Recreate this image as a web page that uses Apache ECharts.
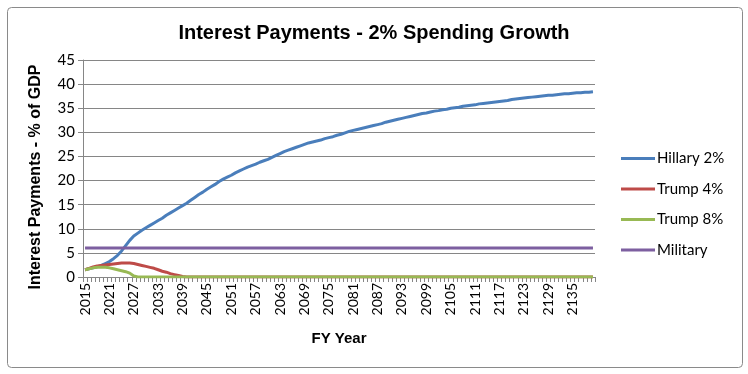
<!DOCTYPE html>
<html>
<head>
<meta charset="utf-8">
<script src="https://cdn.jsdelivr.net/npm/echarts@6/dist/echarts.min.js"></script>
<style>
html,body{margin:0;padding:0;background:#fff;}
#chart{width:748px;height:374px;}
</style>
</head>
<body>
<div id="chart"></div>
<script>
const years = [];
for (let y = 2015; y <= 2140; y++) years.push(String(y));

const hillary = [
1.5,1.7,1.9,2.1,2.4,2.8,3.2,3.8,4.5,5.4,
6.5,7.6,8.5,9.1,9.7,10.2,10.7,11.2,11.7,12.2,
12.8,13.3,13.8,14.3,14.8,15.3,15.9,16.5,17.1,17.6,
18.2,18.7,19.2,19.8,20.3,20.7,21.1,21.6,22.0,22.4,
22.8,23.1,23.4,23.8,24.1,24.4,24.8,25.2,25.6,26.0,
26.3,26.6,26.9,27.2,27.5,27.8,28.0,28.2,28.4,28.7,
28.9,29.1,29.4,29.6,29.9,30.2,30.4,30.6,30.8,31.0,
31.2,31.4,31.6,31.8,32.1,32.3,32.5,32.7,32.9,33.1,
33.3,33.5,33.7,33.9,34.0,34.2,34.4,34.5,34.7,34.8,
35.0,35.1,35.2,35.4,35.5,35.6,35.7,35.9,36.0,36.1,
36.2,36.3,36.4,36.5,36.6,36.8,36.9,37.0,37.1,37.2,
37.3,37.4,37.5,37.6,37.7,37.7,37.8,37.9,38.0,38.0,
38.1,38.2,38.2,38.3,38.3,38.4
];

const trump4 = [
1.5,1.8,2.1,2.3,2.4,2.5,2.6,2.7,2.8,2.9,
2.9,2.9,2.8,2.6,2.4,2.2,2.0,1.8,1.5,1.2,
1.0,0.7,0.5,0.3,0.1,0,0,0,0,0,
0,0,0,0,0,0,0,0,0,0,
0,0,0,0,0,0,0,0,0,0,
0,0,0,0,0,0,0,0,0,0,
0,0,0,0,0,0,0,0,0,0,
0,0,0,0,0,0,0,0,0,0,
0,0,0,0,0,0,0,0,0,0,
0,0,0,0,0,0,0,0,0,0,
0,0,0,0,0,0,0,0,0,0,
0,0,0,0,0,0,0,0,0,0,
0,0,0,0,0,0
];

const trump8 = [
1.5,1.7,1.9,2.0,2.0,2.0,1.9,1.7,1.5,1.3,
1.1,0.8,0.2,0,0,0,0,0,0,0,
0,0,0,0,0,0,0,0,0,0,
0,0,0,0,0,0,0,0,0,0,
0,0,0,0,0,0,0,0,0,0,
0,0,0,0,0,0,0,0,0,0,
0,0,0,0,0,0,0,0,0,0,
0,0,0,0,0,0,0,0,0,0,
0,0,0,0,0,0,0,0,0,0,
0,0,0,0,0,0,0,0,0,0,
0,0,0,0,0,0,0,0,0,0,
0,0,0,0,0,0,0,0,0,0,
0,0,0,0,0,0
];

const military = [
6,6,6,6,6,6,6,6,6,6,6,6,6,6,6,6,6,6,6,6,6,6,6,6,6,6,
6,6,6,6,6,6,6,6,6,6,6,6,6,6,6,6,6,6,6,6,6,6,6,6,6,6,
6,6,6,6,6,6,6,6,6,6,6,6,6,6,6,6,6,6,6,6,6,6,6,6,6,6,
6,6,6,6,6,6,6,6,6,6,6,6,6,6,6,6,6,6,6,6,6,6,6,6,6,6,
6,6,6,6,6,6,6,6,6,6,6,6,6,6,6,6,6,6,6,6,6,6
];

const seriesNames = ['Hillary 2%','Trump 4%','Trump 8%','Military'];
const colors = ['#4A7EBB','#BE4B48','#98B954','#7D5FA0'];
const yTicks = {min:0, max:45, interval:5};
const titleText = 'Interest Payments - 2% Spending Growth';
const yName = 'Interest Payments - % of GDP';
const xName = 'FY Year';

const chart = echarts.init(document.getElementById('chart'), null, {renderer:'canvas'});
const axisFont = 'Lato, "Open Sans", sans-serif';
const boldFont = '"Liberation Sans", Arial, sans-serif';

chart.setOption({
  animation:false,
  backgroundColor:'#fff',
  color: colors,
  graphic:[{
    type:'rect', left:5, top:5,
    shape:{width:735, height:360, r:4},
    style:{fill:'none', stroke:'#8a8a8a', lineWidth:1},
    silent:true
  },{
    type:'text', x:36, y:177, rotation:Math.PI/2,
    style:{text:yName, align:'center', verticalAlign:'middle',
      font:'bold 16px "Liberation Sans", Arial, sans-serif', fill:'#000'},
    silent:true
  }],
  title:{
    text:titleText,
    left:'center', top:18,
    textStyle:{fontFamily:boldFont, fontWeight:'bold', fontSize:20, color:'#000'}
  },
  legend:{
    orient:'vertical', left:616, top:146, itemGap:15.5,
    itemWidth:34, itemHeight:3, icon:'rect',
    data: seriesNames,
    textStyle:{fontFamily:axisFont, fontSize:15, color:'#000', padding:[0,0,0,-3]}
  },
  grid:{left:83, right:153, top:60, bottom:97, containLabel:false},
  xAxis:{
    type:'category', data:years, boundaryGap:true,
    name:xName, nameLocation:'middle', nameGap:54,
    nameTextStyle:{fontFamily:boldFont, fontWeight:'bold', fontSize:15, color:'#000'},
    axisLine:{lineStyle:{color:'#868686', width:1}},
    axisTick:{show:true, interval:0, length:5, lineStyle:{color:'#868686'}},
    axisLabel:{interval:5, rotate:90, fontFamily:axisFont, fontSize:14, color:'#000', margin:6}
  },
  yAxis:{
    type:'value', min:yTicks.min, max:yTicks.max, interval:yTicks.interval,
    axisLine:{show:true, lineStyle:{color:'#868686', width:1}},
    axisTick:{show:true, length:5, lineStyle:{color:'#868686'}},
    axisLabel:{fontFamily:axisFont, fontSize:15, color:'#000', margin:8},
    splitLine:{lineStyle:{color:'#868686', width:1}}
  },
  series:[
    {name:seriesNames[0], type:'line', data:hillary, showSymbol:false, lineStyle:{width:3}, z:2},
    {name:seriesNames[1], type:'line', data:trump4, showSymbol:false, lineStyle:{width:3}, z:3},
    {name:seriesNames[2], type:'line', data:trump8, showSymbol:false, lineStyle:{width:3}, z:4},
    {name:seriesNames[3], type:'line', data:military, showSymbol:false, lineStyle:{width:3}, z:5}
  ]
});
</script>
</body>
</html>
